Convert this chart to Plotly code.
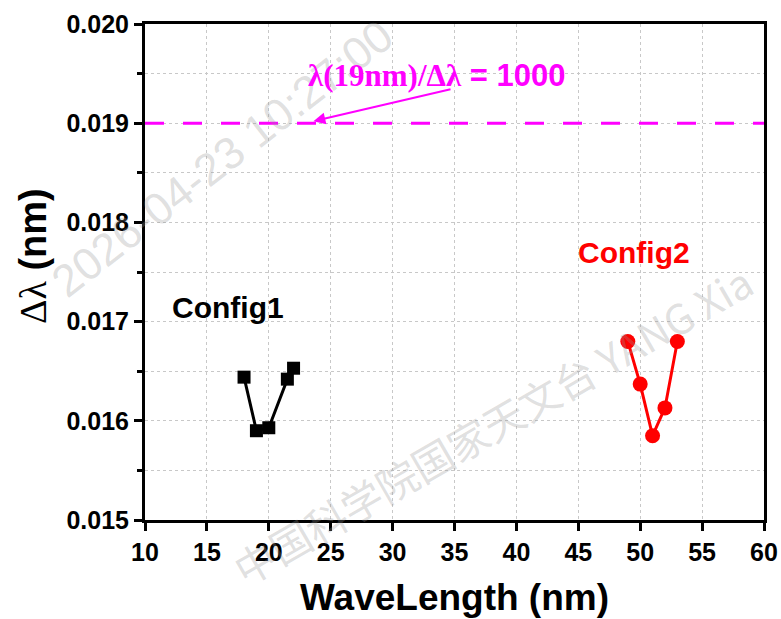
import plotly.graph_objects as go

# ---- data ----
config1_x = [18, 19, 20, 21.5, 22]
config1_y = [0.01644, 0.01590, 0.01593, 0.01642, 0.01653]
config2_x = [49, 50, 51, 52, 53]
config2_y = [0.01680, 0.01637, 0.01585, 0.01613, 0.01680]
ref_x = [10, 60]
ref_y = [0.019, 0.019]
x_ticks = [10, 15, 20, 25, 30, 35, 40, 45, 50, 55, 60]
y_ticks = [0.015, 0.016, 0.017, 0.018, 0.019, 0.020]
y_tick_text = ["0.015", "0.016", "0.017", "0.018", "0.019", "0.020"]

SANS = "Liberation Sans, Arial, sans-serif"
SERIF = "Liberation Serif, Times New Roman, serif"
MAGENTA = "#ff00ff"

L, R, T, B = 145, 17, 24, 99
PW = 781 - L - R
PH = 619 - T - B


def px_x(p):
    return (p - L) / PW


def px_y(p):
    return (520 - p) / PH


fig = go.Figure()

fig.add_trace(go.Scatter(
    x=ref_x, y=ref_y, mode="lines",
    line=dict(color=MAGENTA, width=3, dash="19px,19px"),
    showlegend=False, hoverinfo="skip"))

fig.add_trace(go.Scatter(
    x=config1_x, y=config1_y, mode="lines+markers",
    line=dict(color="black", width=3),
    marker=dict(symbol="square", size=13, color="black"),
    showlegend=False))

fig.add_trace(go.Scatter(
    x=config2_x, y=config2_y, mode="lines+markers",
    line=dict(color="#ff0000", width=3),
    marker=dict(symbol="circle", size=15, color="#ff0000"),
    showlegend=False))

axis_common = dict(
    showline=True, linecolor="black", linewidth=3, mirror=True,
    ticks="outside", ticklen=8, tickwidth=2.5, tickcolor="black",
    showgrid=True, gridcolor="#c8c8c8", gridwidth=1, griddash="dot",
    zeroline=False, automargin=False,
    tickfont=dict(family=SANS, size=25, color="black", weight="bold"),
)

fig.update_xaxes(range=[10, 60], tickvals=x_ticks, **axis_common)
fig.update_yaxes(range=[0.015, 0.020], tickvals=y_ticks, ticktext=y_tick_text,
                 minor=dict(ticks="outside", ticklen=5, tickwidth=2.5, tickcolor="black",
                            dtick=0.0005, tick0=0.015, showgrid=True,
                            gridcolor="#c8c8c8", griddash="dot", gridwidth=1),
                 **axis_common)

WM = "rgba(150,150,150,0.30)"

annotations = [
    # watermark
    dict(text="2026-04-23 10:27:00", xref="paper", yref="paper",
         x=px_x(222), y=px_y(158), xanchor="center", yanchor="middle",
         showarrow=False, textangle=-38,
         font=dict(family=SANS, size=45, color=WM)),
    dict(text="中国科学院国家天文台 YANG Xia", xref="paper", yref="paper",
         x=px_x(492), y=px_y(424), xanchor="center", yanchor="middle",
         showarrow=False, textangle=-30,
         font=dict(family="Noto Sans CJK SC, " + SANS, size=41, color=WM)),
    # axis titles
    dict(text="<b>WaveLength (nm)</b>", xref="paper", yref="paper",
         x=px_x(454), y=px_y(597), xanchor="center", yanchor="middle",
         showarrow=False, font=dict(family=SANS, size=37, color="black")),
    dict(text="<span style='font-family:" + SERIF + "'>Δλ</span> <b>(nm)</b>",
         xref="paper", yref="paper", textangle=-90,
         x=px_x(33), y=px_y(256), xanchor="center", yanchor="middle",
         showarrow=False, font=dict(family=SANS, size=38, color="black")),
    # labels
    dict(text="<b>Config1</b>", x=16.7, y=0.01714, xref="x", yref="y",
         showarrow=False, font=dict(family=SANS, size=30, color="black")),
    dict(text="<b>Config2</b>", x=49.5, y=0.01770, xref="x", yref="y",
         showarrow=False, font=dict(family=SANS, size=30, color="#ff0000")),
    # ratio annotation with arrow
    dict(text="<b><span style='font-family:" + SERIF + "'>λ(19nm)/Δλ</span> = 1000</b>",
         x=33.6, y=0.01948, xref="x", yref="y",
         showarrow=False, font=dict(family=SANS, size=31, color=MAGENTA)),
    dict(text="", x=23.6, y=0.01902, ax=34.8, ay=0.019345,
         xref="x", yref="y", axref="x", ayref="y",
         showarrow=True, arrowhead=2, arrowsize=1.2, arrowwidth=2, arrowcolor=MAGENTA),
]

fig.update_layout(
    width=781, height=619,
    margin=dict(l=L, r=R, t=T, b=B),
    paper_bgcolor="white", plot_bgcolor="white",
    annotations=annotations,
    showlegend=False,
)

fig.write_html("out.html")
